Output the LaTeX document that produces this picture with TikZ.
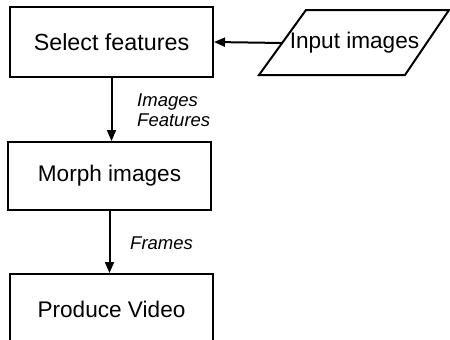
\documentclass[tikz,border=0pt]{standalone}
\usepackage{fontspec}
\setmainfont{Liberation Sans}
\usetikzlibrary{arrows.meta}
\begin{document}
\begin{tikzpicture}[x=1pt,y=-1pt,
  box/.style={draw,line width=2pt,minimum width=203pt,minimum height=70pt,inner sep=0pt,font=\fontsize{22.6}{27}\selectfont},
  conn/.style={line width=2pt,-{Triangle[length=11pt,width=9pt]}},
  lbl/.style={font=\fontsize{18.5}{22}\selectfont\itshape,anchor=west,inner sep=0pt}]
\useasboundingbox (0,0) rectangle (450,340);
\node[box,font=\fontsize{23.3}{28}\selectfont] (sel) at (111.5,42) {Select features};
\node[box,minimum height=68pt] (mor) at (109.5,176) {Morph images};
\node[box] (pro) at (111.5,309) {Produce Video};
\draw[line width=2pt,line join=miter] (306,10) -- (449,10) -- (405,75) -- (259,75) -- cycle;
\node[font=\fontsize{22.6}{27}\selectfont,inner sep=0pt] (inp) at (354.5,43) {Input images};
\coordinate (inl) at (282,43);
\draw[conn] (inl) -- (sel.east);
\draw[conn] (sel.south) -- (mor.north -| sel.south);
\draw[conn] (mor.south) -- (pro.north -| mor.south);
\node[lbl] (l1) at (137,102) {Images};
\node[lbl] (l2) at (137,120) {Features};
\node[lbl] (l3) at (130,243) {Frames};
\end{tikzpicture}
\end{document}
